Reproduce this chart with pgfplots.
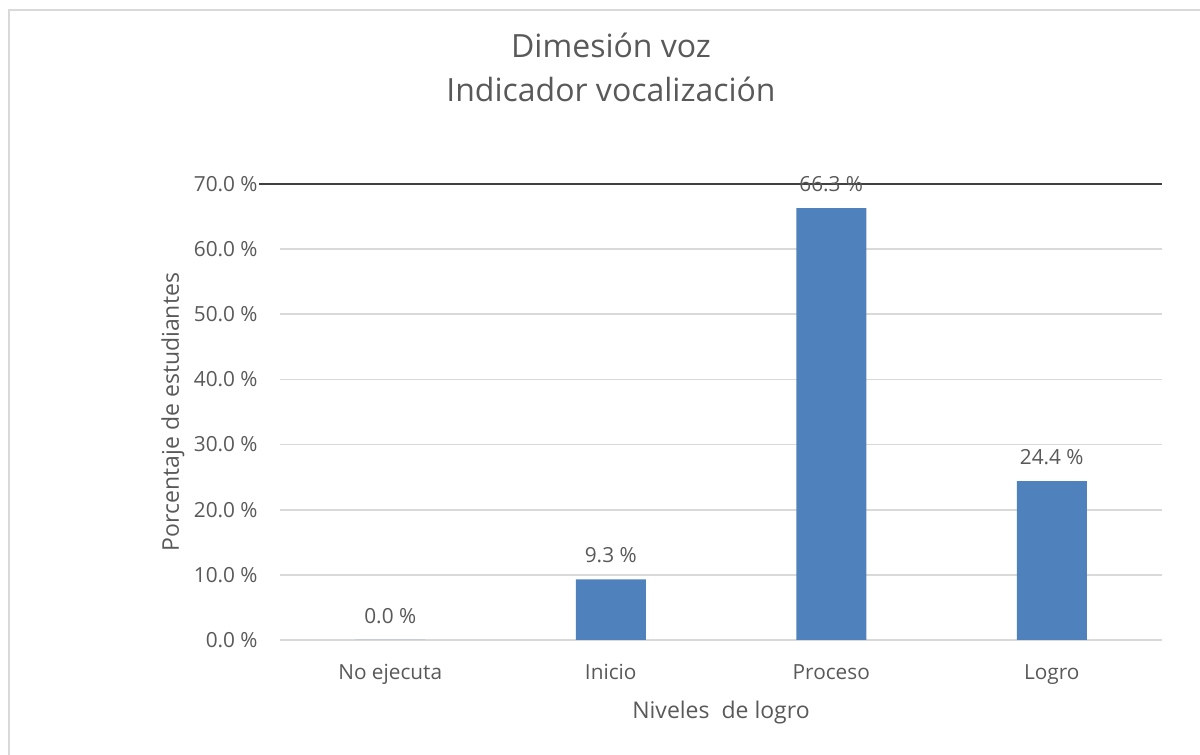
\documentclass[border=0pt]{standalone}
\usepackage{fontspec}
\setmainfont{Open Sans}
\usepackage{pgfplots}
\pgfplotsset{compat=1.18}
\definecolor{barblue}{HTML}{4F81BD}
\definecolor{txtgray}{HTML}{595959}
\definecolor{gridgray}{HTML}{D9D9D9}
\definecolor{framegray}{HTML}{D9D9D9}

\begin{document}
\begin{tikzpicture}[x=0.5pt,y=0.5pt]
\useasboundingbox (0,0) rectangle (1200,755);
% outer chart frame (right and bottom edges fall outside the picture)
\draw[framegray, line width=1.2pt] (9,-20) -- (9,745) -- (1260,745);
\coordinate (O) at (280,115);
\begin{axis}[
    at={(O)}, anchor=south west,
    width=441pt, height=228pt, scale only axis,
    xmin=-0.5, xmax=3.5, ymin=0, ymax=70,
    xtick={0,1,2,3},
    xticklabels={No ejecuta, Inicio, Proceso, Logro},
    ytick={0,10,...,70},
    /pgf/number format/assume math mode=true,
    yticklabel={\pgfmathprintnumber[fixed,fixed zerofill,precision=1]{\tick}~\%},
    major tick length=0pt,
    axis x line*=bottom, axis y line*=left,
    x axis line style={draw=none}, y axis line style={draw=none},
    ymajorgrids,
    grid style={gridgray, line width=0.9pt},
    tick label style={txtgray, font=\fontsize{10.4}{12}\selectfont, inner sep=0pt},
    yticklabel style={anchor=east, xshift=-11pt},
    xticklabel style={anchor=base, yshift=-20pt},
    label style={txtgray, font=\fontsize{11.5}{14}\selectfont},
    xlabel={Niveles\ \ de logro},
    xlabel style={at={(axis description cs:0.5,-0.1601)}, anchor=center},
    ylabel={Porcentaje de estudiantes},
    ylabel style={at={(axis description cs:-0.1213,0.5)}, anchor=center},
    title={Dimesión voz\\Indicador vocalización},
    title style={at={(axis description cs:0.3753,1.2303)}, anchor=center,
        align=center, txtgray, font=\fontsize{16}{22}\selectfont},
    clip=false,
]
\addplot[ybar, fill=barblue, draw=none, bar width=35pt,
    nodes near coords={\pgfmathprintnumber[fixed,fixed zerofill,precision=1]{\pgfplotspointmeta}~\%},
    every node near coord/.append style={txtgray, font=\fontsize{10.4}{12}\selectfont,
        anchor=center, inner sep=0pt, yshift=12pt}]
    coordinates {(0,0) (1,9.3) (2,66.3) (3,24.4)};
\draw[black!75, line width=1pt] ([xshift=-10.5pt]axis cs:-0.5,70) -- (axis cs:3.5,70);
\end{axis}
\end{tikzpicture}
\end{document}
